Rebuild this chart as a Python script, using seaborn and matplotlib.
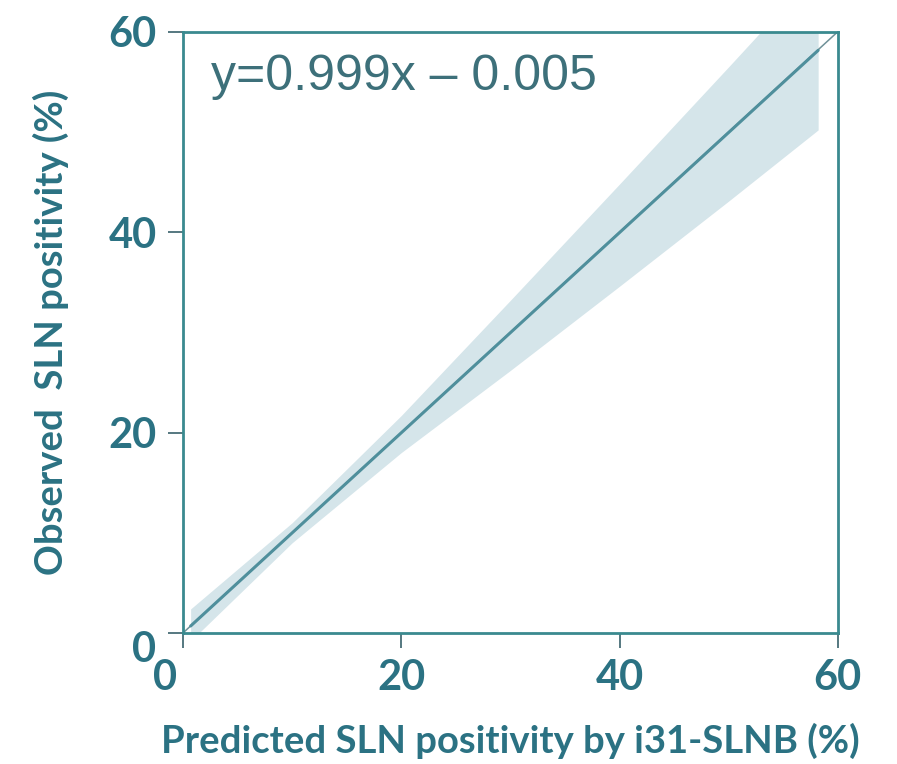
import numpy as np
import pandas as pd
import matplotlib
matplotlib.use("Agg")
import matplotlib.pyplot as plt
import matplotlib.transforms as mtransforms
import seaborn as sns

# Calibration fit: observed vs predicted SLN positivity
slope = 0.999
intercept = -0.005
x_fit = [0.7, 10.0, 20.0, 30.0, 40.0, 50.0, 58.2]
# 95% confidence band around the fit (observed %, lower / upper)
ci_lower = [-0.8, 9.0, 18.0, 26.2, 34.6, 43.1, 50.2]
ci_upper = [2.4, 11.0, 21.7, 33.2, 44.8, 56.5, 66.2]
ticks = [0, 20, 40, 60]
equation = "y=0.999x \u2013 0.005"

TEAL = "#2b7283"
SPINE = "#3a8a8f"

sns.set_theme(style="white")
plt.rcParams["font.family"] = ["Lato", "DejaVu Sans"]

fig = plt.figure(figsize=(8.97, 7.64), dpi=100)
ax = fig.add_axes([0.204, 0.1715, 0.730, 0.787])

df = pd.DataFrame({"x": x_fit, "lo": ci_lower, "hi": ci_upper})
df["y"] = slope * df["x"] + intercept

ax.fill_between(df["x"], df["lo"], df["hi"], color="#d5e5ea", lw=0, zorder=1)
# identity reference line
sns.lineplot(x=[0, 60], y=[0, 60], ax=ax, color="#6f9198", lw=1.1, zorder=2)
sns.lineplot(data=df, x="x", y="y", ax=ax, color="#4f8f9c", lw=2.2, zorder=3)

ax.set_xlim(0, 60)
ax.set_ylim(0, 60)
ax.set_xticks(ticks)
ax.set_yticks(ticks)
ax.set_xticklabels([str(t) for t in ticks])
ax.set_yticklabels([str(t) for t in ticks])

for s in ax.spines.values():
    s.set_color(SPINE)
    s.set_linewidth(2.0)
    s.set_visible(True)

ax.tick_params(axis="both", which="major", direction="out", length=11,
               width=1.4, color="#557880", labelcolor=TEAL, labelsize=30,
               pad=8, left=True, bottom=True)
for lab in ax.get_xticklabels() + ax.get_yticklabels():
    lab.set_fontweight("bold")

# nudge the origin labels away from the corner
xl0 = ax.get_xticklabels()[0]
xl0.set_transform(xl0.get_transform() + mtransforms.ScaledTranslation(-0.18, 0, fig.dpi_scale_trans))
yl0 = ax.get_yticklabels()[0]
yl0.set_transform(yl0.get_transform() + mtransforms.ScaledTranslation(0, -0.14, fig.dpi_scale_trans))

ax.set_xlabel("Predicted SLN positivity by i31-SLNB (%)", fontsize=27.5,
              fontweight="bold", color=TEAL, labelpad=18)
ax.set_ylabel("Observed  SLN positivity (%)", fontsize=27.5,
              fontweight="bold", color=TEAL, labelpad=28)

ax.text(0.043, 0.925, equation, transform=ax.transAxes, fontsize=36,
        family=["Liberation Sans", "DejaVu Sans"], color="#3d707a",
        ha="left", va="center")

fig.savefig("out.png", dpi=100, facecolor="white")
